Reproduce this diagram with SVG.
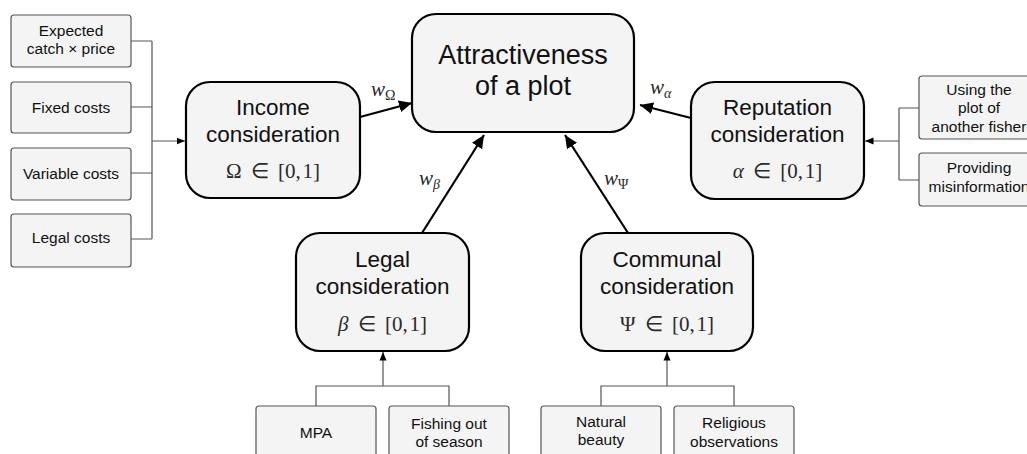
<svg xmlns="http://www.w3.org/2000/svg" width="1027" height="454" viewBox="0 0 1027 454">
  <defs>
    <style>
      .main { fill: #f4f4f4; stroke: #000; stroke-width: 2.2; }
      .leaf { fill: #f4f4f4; stroke: #555; stroke-width: 1.2; }
      .big { font-family: "Liberation Sans", Arial, sans-serif; font-size: 27px; fill: #111; text-anchor: middle; }
      .mid { font-family: "Liberation Sans", Arial, sans-serif; font-size: 22.5px; fill: #111; text-anchor: middle; }
      .small { font-family: "Liberation Sans", Arial, sans-serif; font-size: 15.5px; fill: #111; text-anchor: middle; }
      .math { font-family: "Liberation Serif", "Times New Roman", serif; font-size: 21px; fill: #2a2a2a; text-anchor: middle; word-spacing: 4px; }
      .wlab { font-family: "Liberation Serif", "Times New Roman", serif; font-size: 21px; fill: #2a2a2a; font-style: italic; }
      .it { font-style: italic; }
      .thick { fill: none; stroke: #000; stroke-width: 2.2; }
      .thin { fill: none; stroke: #555; stroke-width: 1.2; }
    </style>
    <marker id="headBig" markerUnits="userSpaceOnUse" markerWidth="14" markerHeight="12" refX="13" refY="6" orient="auto">
      <path d="M0,0 L13,6 L0,12 Z" fill="#000"/>
    </marker>
    <marker id="headSmall" markerUnits="userSpaceOnUse" markerWidth="9" markerHeight="8" refX="8.5" refY="4" orient="auto">
      <path d="M0,0.5 L8.5,4 L0,7.5 Z" fill="#000"/>
    </marker>
  </defs>

  <!-- connectors -->
  <g id="connectors">
    <!-- income inputs -->
    <path class="thin" d="M131,41 H152 M131,107 H152 M131,173 H152 M131,239 H152 M152,41 V239"/>
    <path class="thin" d="M152,141 H185" marker-end="url(#headSmall)"/>
    <!-- reputation inputs -->
    <path class="thin" d="M919,108 H899 M919,180 H899 M899,108 V180"/>
    <path class="thin" d="M899,141 H865" marker-end="url(#headSmall)"/>
    <!-- legal inputs -->
    <path class="thin" d="M316,406 V386 H449 V406"/>
    <path class="thin" d="M383,386 V352" marker-end="url(#headSmall)"/>
    <!-- communal inputs -->
    <path class="thin" d="M601,406 V386 H734 V406"/>
    <path class="thin" d="M667,386 V352" marker-end="url(#headSmall)"/>
    <!-- weighted links to the plot -->
    <path class="thick" d="M360,117 L412,103" marker-end="url(#headBig)"/>
    <path class="thick" d="M691,118 L640,105" marker-end="url(#headBig)"/>
    <path class="thick" d="M422,233 L484,135" marker-end="url(#headBig)"/>
    <path class="thick" d="M628,233 L565,135" marker-end="url(#headBig)"/>
    <text class="wlab" x="371" y="96">w<tspan font-size="14" font-style="normal" dy="4">Ω</tspan></text>
    <text class="wlab" x="650" y="94">w<tspan font-size="14" dy="4">α</tspan></text>
    <text class="wlab" x="419" y="185">w<tspan font-size="14" dy="4">β</tspan></text>
    <text class="wlab" x="604" y="185">w<tspan font-size="14" font-style="normal" dy="4">Ψ</tspan></text>
  </g>

  <!-- central node -->
  <g id="attractiveness">
    <rect class="main" x="412" y="14" width="222" height="118" rx="24"/>
    <text class="big" x="523" y="64">Attractiveness</text>
    <text class="big" x="523" y="95">of a plot</text>
  </g>

  <g id="income">
    <rect class="main" x="186" y="82" width="174" height="116" rx="24"/>
    <text class="mid" x="273" y="115">Income</text>
    <text class="mid" x="273" y="142">consideration</text>
    <text class="math" x="273" y="178">Ω ∈ [0,&#8202;1]</text>
  </g>

  <g id="reputation">
    <rect class="main" x="691" y="82" width="173" height="117" rx="24"/>
    <text class="mid" x="777.5" y="115">Reputation</text>
    <text class="mid" x="777.5" y="142">consideration</text>
    <text class="math" x="777.5" y="178"><tspan class="it">α</tspan> ∈ [0,&#8202;1]</text>
  </g>

  <g id="legal">
    <rect class="main" x="296" y="233" width="173" height="118" rx="24"/>
    <text class="mid" x="382.5" y="267">Legal</text>
    <text class="mid" x="382.5" y="294">consideration</text>
    <text class="math" x="382.5" y="331"><tspan class="it">β</tspan> ∈ [0,&#8202;1]</text>
  </g>

  <g id="communal">
    <rect class="main" x="581" y="233" width="172" height="118" rx="24"/>
    <text class="mid" x="667" y="267">Communal</text>
    <text class="mid" x="667" y="294">consideration</text>
    <text class="math" x="667" y="331">Ψ ∈ [0,&#8202;1]</text>
  </g>

  <!-- income inputs -->
  <g id="expected-catch">
    <rect class="leaf" x="11" y="15" width="120" height="52" rx="3"/>
    <text class="small" x="71" y="36">Expected</text>
    <text class="small" x="71" y="54">catch × price</text>
  </g>
  <g id="fixed-costs">
    <rect class="leaf" x="11" y="82" width="120" height="51" rx="3"/>
    <text class="small" x="71" y="113">Fixed costs</text>
  </g>
  <g id="variable-costs">
    <rect class="leaf" x="11" y="148" width="120" height="52" rx="3"/>
    <text class="small" x="71" y="179">Variable costs</text>
  </g>
  <g id="legal-costs">
    <rect class="leaf" x="11" y="214" width="120" height="53" rx="3"/>
    <text class="small" x="71" y="243">Legal costs</text>
  </g>

  <!-- reputation inputs -->
  <g id="another-plot">
    <rect class="leaf" x="919" y="76" width="120" height="63" rx="3"/>
    <text class="small" x="979" y="95">Using the</text>
    <text class="small" x="979" y="113">plot of</text>
    <text class="small" x="979" y="132">another fisher</text>
  </g>
  <g id="misinformation">
    <rect class="leaf" x="919" y="153" width="120" height="53" rx="3"/>
    <text class="small" x="979" y="173">Providing</text>
    <text class="small" x="979" y="192">misinformation</text>
  </g>

  <!-- legal inputs -->
  <g id="mpa">
    <rect class="leaf" x="256" y="406" width="120" height="60" rx="3"/>
    <text class="small" x="316" y="438">MPA</text>
  </g>
  <g id="out-of-season">
    <rect class="leaf" x="389" y="406" width="120" height="60" rx="3"/>
    <text class="small" x="449" y="429">Fishing out</text>
    <text class="small" x="449" y="447">of season</text>
  </g>

  <!-- communal inputs -->
  <g id="natural-beauty">
    <rect class="leaf" x="541" y="406" width="120" height="60" rx="3"/>
    <text class="small" x="601" y="427">Natural</text>
    <text class="small" x="601" y="445">beauty</text>
  </g>
  <g id="religious">
    <rect class="leaf" x="674" y="406" width="120" height="60" rx="3"/>
    <text class="small" x="734" y="428">Religious</text>
    <text class="small" x="734" y="447">observations</text>
  </g>
</svg>
